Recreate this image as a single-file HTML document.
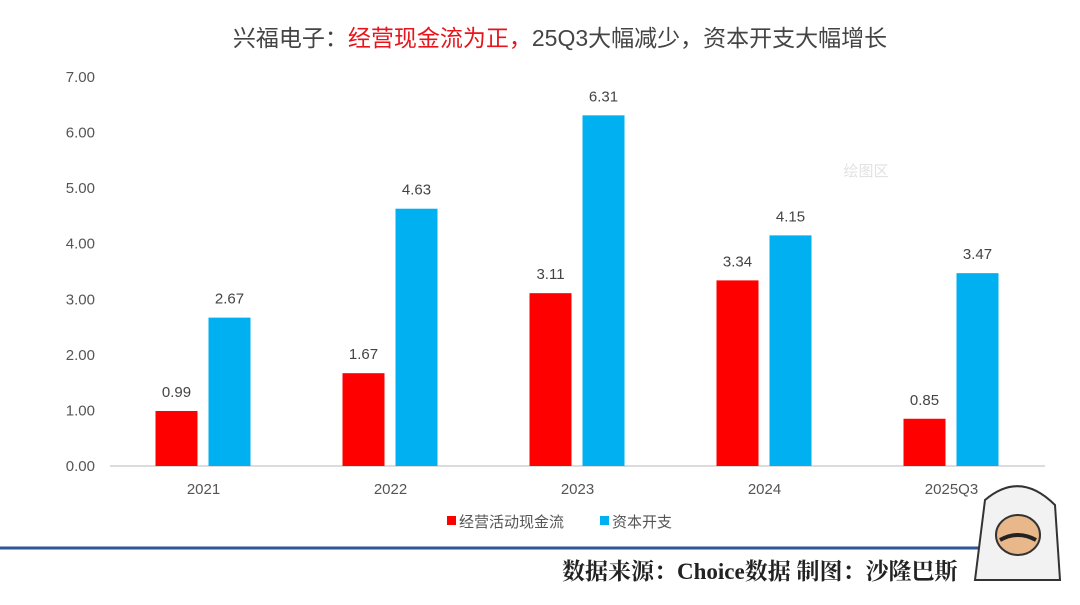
<!DOCTYPE html>
<html><head><meta charset="utf-8"><style>
body{margin:0;background:#fff;width:1080px;height:600px;overflow:hidden;font-family:"Liberation Sans","Noto Sans CJK SC",sans-serif;}
</style></head><body>
<svg width="1080" height="600" id="c">
<text x="560" y="46" text-anchor="middle" font-size="23" fill="#444" font-family="Liberation Sans,Noto Sans CJK SC,sans-serif">兴福电子：<tspan fill="#e8141b">经营现金流为正，</tspan>25Q3大幅减少，资本开支大幅增长</text>
<text x="866" y="176" text-anchor="middle" font-size="15" fill="#e2e2e2">绘图区</text>
<g id="axes"></g><g id="bars"></g>
<g>
<rect x="447" y="516" width="9" height="9" fill="#ff0000"/>
<text x="459" y="527" font-size="15" fill="#555">经营活动现金流</text>
<rect x="600" y="516" width="9" height="9" fill="#00b0f0"/>
<text x="612" y="527" font-size="15" fill="#555">资本开支</text>
</g>
<line x1="0" y1="548" x2="1000" y2="548" stroke="#2e5597" stroke-width="3"/>
<text x="562" y="579" font-size="23" font-weight="bold" fill="#222" font-family="Liberation Serif,Noto Serif CJK SC,serif">数据来源：Choice数据 制图：沙隆巴斯</text>
<g>
<path d="M985 500 Q1020 470 1055 505 L1060 580 L975 580 Z" fill="#f2f2f2" stroke="#333" stroke-width="2"/>
<ellipse cx="1018" cy="535" rx="22" ry="20" fill="#e8b88a" stroke="#333" stroke-width="2"/>
<path d="M1000 540 Q1018 530 1036 540" stroke="#222" stroke-width="4" fill="none"/>
</g>
</svg>
<script>
const categories=["2021","2022","2023","2024","2025Q3"];
const cashFlow=[0.99,1.67,3.11,3.34,0.85];
const capex=[2.67,4.63,6.31,4.15,3.47];
const yTicks=[0,1,2,3,4,5,6,7];
const NS="http://www.w3.org/2000/svg";
const x0=110,x1=1045,y0=466,yTop=77;
const y=v=>y0-(v/7)*(y0-yTop);
const step=(x1-x0)/categories.length;
const cx=i=>x0+step*(i+0.5);
function mk(tag,attrs,parent,txt){const e=document.createElementNS(NS,tag);for(const k in attrs)e.setAttribute(k,attrs[k]);if(txt!=null)e.textContent=txt;parent.appendChild(e);return e;}
const ax=document.getElementById('axes'),bg=document.getElementById('bars');
yTicks.forEach(t=>{const e=mk('text',{x:95,y:y(t)+5,'text-anchor':'end','font-size':15,fill:'#555'},ax,t.toFixed(2));

});
const base=mk('line',{x1:x0,x2:x1,y1:y0,y2:y0,stroke:'#d0d0d0','stroke-width':1.5},ax);


categories.forEach((c,i)=>{
const l=mk('text',{x:cx(i),y:y0+28,'text-anchor':'middle','font-size':15,fill:'#555'},ax,c);


[[cashFlow,'#ff0000',-48],[capex,'#00b0f0',5]].forEach(([arr,col,off],s)=>{
const v=arr[i];
const r=mk('rect',{x:cx(i)+off,y:y(v),width:42,height:y0-y(v),fill:col},bg);


const t=mk('text',{x:cx(i)+off+21,y:y(v)-14,'text-anchor':'middle','font-size':15,fill:'#444'},bg,v.toFixed(2));


});
});
</script>
</body></html>
